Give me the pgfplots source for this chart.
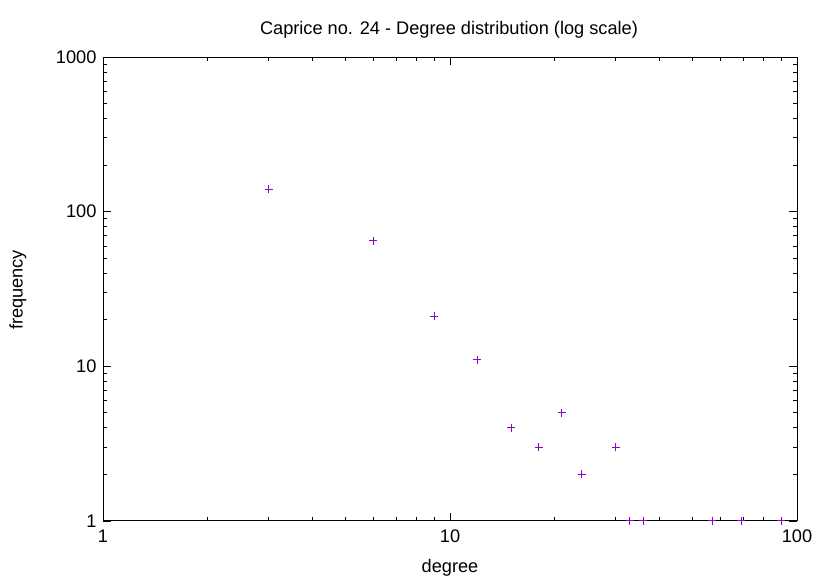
\documentclass[border=0pt]{standalone}
\usepackage{fontspec}
\setmainfont{Liberation Sans}
\usepackage{pgfplots}
\pgfplotsset{compat=1.18}
\definecolor{gpviolet}{RGB}{148,0,211}

\begin{document}
\begin{tikzpicture}[x=1pt,y=1pt]
\path[use as bounding box] (0,0) rectangle (830,581);
\begin{axis}[
  at={(103pt,60pt)}, anchor=south west,
  scale only axis, width=694pt, height=464pt,
  xmode=log, ymode=log,
  xmin=1, xmax=100, ymin=1, ymax=1000,
  xtick={1,10,100}, ytick={1,10,100,1000},
  xticklabels={1,10,100}, yticklabels={1,10,100,1000},
  minor xtick={2,3,4,5,6,7,8,9,20,30,40,50,60,70,80,90},
  minor ytick={2,3,4,5,6,7,8,9,20,30,40,50,60,70,80,90,200,300,400,500,600,700,800,900},
  tick align=inside,
  major tick length=8pt, minor tick length=4pt,
  axis line style={black, line width=1pt},
  every tick/.style={black, line width=0.8pt},
  tick label style={font=\fontsize{18.2}{21}\selectfont},
  xticklabel style={yshift=-5pt},
  yticklabel style={xshift=-3pt},
  clip=false,
]
\addplot[only marks, mark=+, mark size=4pt, draw=gpviolet,
  mark options={solid, draw=gpviolet, line width=1pt}]
  coordinates {
    (3,140) (6,65) (9,21) (12,11) (15,4) (18,3) (21,5) (24,2) (30,3)
    (33,1) (36,1) (57,1) (69,1) (90,1)
  };
\end{axis}
\node[font=\fontsize{18.2}{21}\selectfont] at (449,551) {Caprice no. 24 - Degree distribution (log scale)};
\node[font=\fontsize{18.2}{21}\selectfont] at (450,13) {degree};
\node[font=\fontsize{18.2}{21}\selectfont, rotate=90] at (18,291) {frequency};
\end{tikzpicture}
\end{document}
